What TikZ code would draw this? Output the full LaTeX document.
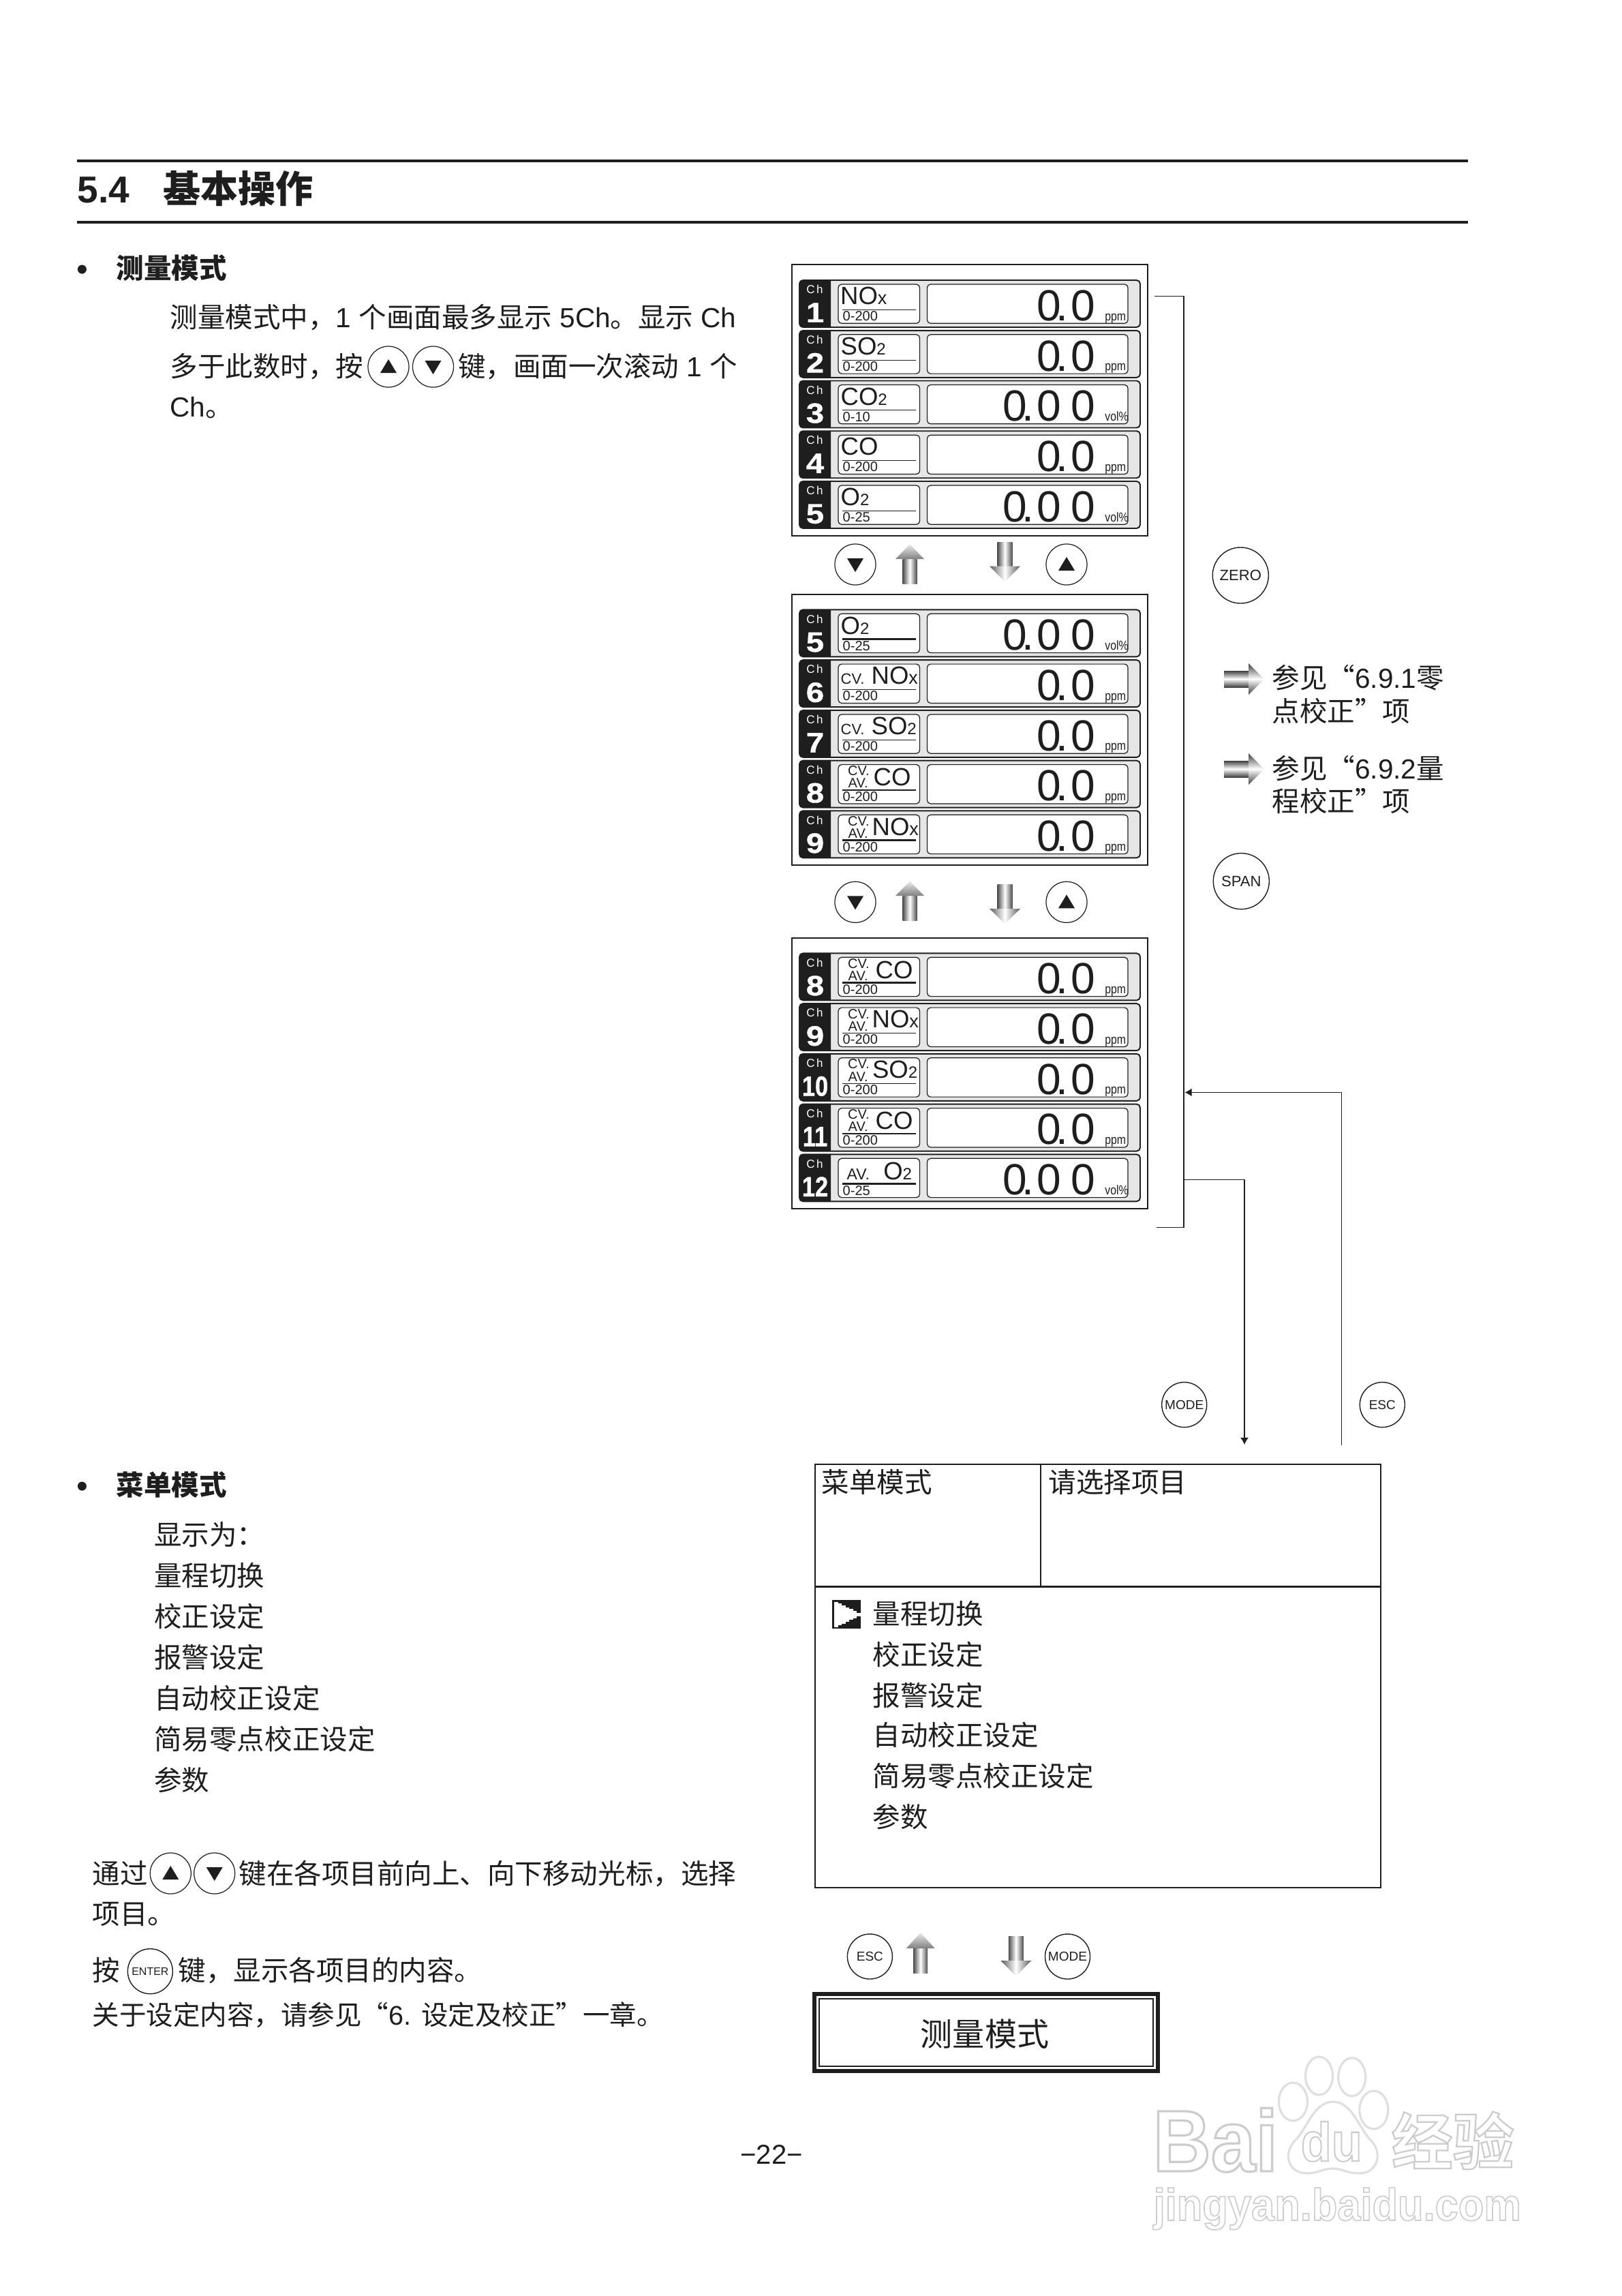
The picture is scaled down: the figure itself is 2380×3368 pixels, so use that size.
\documentclass[tikz,border=0pt]{standalone}
\usepackage{fontspec}
\setmainfont{Liberation Sans}
\newfontfamily\cjk{Noto Sans CJK SC}
\newfontfamily\condf[FakeStretch=.83]{Liberation Sans}
\newfontfamily\chnum[FakeStretch=1.15,FakeBold=1]{Liberation Sans Bold}
\newfontfamily\wmfont[FakeBold=2.5,FakeStretch=.92]{Liberation Sans Bold}
\newfontfamily\wmurl[FakeBold=2.5,FakeStretch=.93]{Liberation Sans Bold}
\newfontfamily\wmcjk[FakeBold=2.5]{Noto Sans CJK SC Bold}
\usetikzlibrary{arrows.meta,positioning}
\definecolor{inkk}{RGB}{30,30,30}
\definecolor{rowgray}{RGB}{230,230,230}
% one unit of the picture is one pixel of the page
\newcommand{\fsz}[1]{\fontsize{\fpeval{#1*0.28453}pt}{\fpeval{#1*0.34}pt}\selectfont}
\newcommand{\zh}[1]{{\cjk #1}}
\newcommand{\low}[1]{{\fsz{24}#1}}
\newcommand{\lowx}{{\fsz{27}x}}
\newcommand{\narrownum}[1]{\scalebox{.73}[1]{#1}}
\newcommand{\valone}{0\kern-.12em.\kern.067em 0}
\newcommand{\valtwo}{0\kern-.12em.\kern.067em 0\kern.225em 0}
\newcommand{\hollow}[1]{\special{pdf:bcolor [1] [.8]}#1\special{pdf:ecolor}}
% row name, top, number, range, value, unit, label nodes
\newcommand{\chrow}[7]{%
  \begin{scope}[shift={(0,#2)}]
    \draw[rowbox] (1173,0) rectangle (1673,69);
    \fill[inkk] (1219,0) {[rounded corners=1.5pt] -- (1173,0) -- (1173,69)} -- (1219,69) -- cycle;
    \draw[inbox] (1230,6) rectangle (1349.5,63.3);
    \draw[inbox] (1360.5,6) rectangle (1655,63.3);
    \draw[inkk, line width=.35pt] (1236,43.3) -- (1344,43.3);
    \node[chtag] (#1c) at (1195.5,19.7) {C\kern.15em h};
    \node[chno] (#1n) at (1196,61.7) {#3};
    \node[rng] (#1r) at (1236,59.7) {#4};
    \node[val] (#1v) at (1608,59.3) {#5};
    \node[unt] (#1u) at (1620.7,59) {#6};
    #7
  \end{scope}}
\newcommand{\cvav}{\node[tag] at (1243.5,22) {CV.}; \node[tag] at (1244,40.3) {AV.};}
\newcommand{\cvone}{\node[tag, font=\fsz{22}] at (1233,35.7) {CV.};}
\newcommand{\heavyrule}{\draw[inkk, line width=.65pt] (1236,43.3) -- (1344,43.3);}
% keys with a triangle
\newcommand{\upkey}[3]{\node[keyb] (#1) at (#2,#3) {};
  \fill[inkk, shift={(#1.center)}] (0,-11) -- (12,9) -- (-12,9) -- cycle;}
\newcommand{\dnkey}[3]{\node[keyb] (#1) at (#2,#3) {};
  \fill[inkk, shift={(#1.center)}] (0,11) -- (12,-9) -- (-12,-9) -- cycle;}
% shaded arrows: centre x, top, head base, tip end
\newcommand{\uparw}[4]{%
  \shade[metal] (#1-10.5,#3) rectangle (#1+10.5,#4);
  \shade[metalup] (#1,#2) -- (#1+21,#3) -- (#1-21,#3) -- cycle;}
\newcommand{\dnarw}[4]{%
  \shade[metal] (#1-11,#2) rectangle (#1+11,#3);
  \shade[metalhead] (#1-22.5,#3) -- (#1+22.5,#3) -- (#1,#4) -- cycle;}
\newcommand{\rtarw}[1]{%
  \shade[metalh] (1796,#1-12) rectangle (1832,#1+12);
  \shade[metalh] (1832,#1-23) -- (1855,#1) -- (1832,#1+23) -- cycle;}

\begin{document}
\begin{tikzpicture}[x=0.01cm, y=-0.01cm,
    rowbox/.style={draw=inkk, fill=rowgray, line width=.55pt, rounded corners=1.5pt},
    inbox/.style={draw=inkk, fill=white, line width=.35pt, rounded corners=1.4pt},
    chtag/.style={anchor=base, inner sep=0, text=white, font=\fsz{17}},
    chno/.style={anchor=base, inner sep=0, text=white, font=\chnum\fsz{41}},
    rng/.style={anchor=base west, inner sep=0, text=inkk, font=\fsz{20}},
    val/.style={anchor=base east, inner sep=0, text=inkk, font=\fsz{64}},
    unt/.style={anchor=base west, inner sep=0, text=inkk, font=\condf\fsz{19}},
    gas/.style={anchor=base west, inner sep=0, text=inkk, font=\fsz{36.5}},
    tag/.style={anchor=base west, inner sep=0, text=inkk, font=\fsz{20}},
    panel/.style={draw=inkk, line width=.6pt},
    keyb/.style={circle, draw=inkk, line width=.35pt, minimum size=.6cm, inner sep=0},
    key/.style={circle, draw=inkk, line width=.4pt, minimum size=.66cm, inner sep=0, text=inkk, font=\fsz{19}},
    bigkey/.style={key, minimum size=.82cm, font=\fsz{22}},
    metal/.style={left color=black!70, right color=black!70, middle color=white},
    metalhead/.style={left color=black!65, right color=black!65, middle color=white},
    metalup/.style={top color=gray!15, bottom color=black!50},
    metalh/.style={top color=black!75, bottom color=black!75, middle color=white},
    txt/.style={anchor=base west, inner sep=0, text=inkk, font=\fsz{40.5}},
    hd/.style={anchor=base west, inner sep=0, text=inkk, font=\bfseries\fsz{40.5}},
    bull/.style={anchor=base, inner sep=0, text=inkk, font=\fsz{48}},
    flow/.style={draw=inkk, line width=.35pt},
    tip/.style={-{Latex[length=2.9pt,width=3.4pt]}},
    wm/.style={anchor=base west, inner sep=0}
  ]
    \useasboundingbox (0,0) rectangle (2380,3368);

    % Title
    \draw[inkk, line width=1.15pt] (113,235.7) -- (2154,235.7);
    \draw[inkk, line width=1.15pt] (113,326) -- (2154,326);
    \node[anchor=base west, inner sep=0, text=inkk, font=\bfseries\fsz{55}] (title) at (113,297)
      {5.4\hspace{.9em}\zh{基本操作}};

    % Measuring mode text
    \node[bull] (b1) at (121,411) {•};
    \node[hd] (m1) at (170,408) {\zh{测量模式}};
    \node[txt] (l1) at (249,480) {\zh{测量模式中，}1 \zh{个画面最多显示} 5Ch\zh{。显示} Ch};
    \node[txt] (l2a) at (249,552) {\zh{多于此数时，按}};
    \upkey{tu}{570}{538}
    \dnkey{td}{635.5}{538}
    \node[txt] (l2b) at (671.5,552) {\zh{键，画面一次滚动} 1 \zh{个}};
    \node[txt] (l3) at (249,611) {Ch\zh{。}};

    % First screen
    \draw[panel] (1162,388.3) rectangle (1684,786);
    \chrow{a}{411}{1}{0-200}{\valone}{ppm}{\node[gas] at (1232.5,35.7) {NO\lowx};}
    \chrow{b}{484.8}{2}{0-200}{\valone}{ppm}{\node[gas] at (1233,35.7) {SO\low{2}};}
    \chrow{c}{558.5}{3}{0-10}{\valtwo}{vol\%}{\node[gas] at (1233,35.7) {CO\low{2}};}
    \chrow{d}{632.2}{4}{0-200}{\valone}{ppm}{\node[gas] at (1233,35.7) {CO};}
    \chrow{e}{706}{5}{0-25}{\valtwo}{vol\%}{\node[gas] at (1233,35.7) {O\low{2}};}

    \dnkey{k1}{1255}{828}
    \upkey{k2}{1565}{828}
    \uparw{1335}{798.3}{820}{856.7}
    \dnarw{1474.5}{795}{830.7}{853.3}

    % Second screen
    \draw[panel] (1162,871.7) rectangle (1684,1269.3);
    \chrow{f}{894.3}{5}{0-25}{\valtwo}{vol\%}{\heavyrule \node[gas] at (1233,35.7) {O\low{2}};}
    \chrow{g}{968.1}{6}{0-200}{\valone}{ppm}{\cvone \node[gas] at (1278,35.7) {NO\lowx};}
    \chrow{h}{1041.9}{7}{0-200}{\valone}{ppm}{\cvone \node[gas] at (1278,35.7) {SO\low{2}};}
    \chrow{i}{1115.6}{8}{0-200}{\valone}{ppm}{\cvav \node[gas] at (1281,36.7) {CO};}
    \chrow{j}{1189.3}{9}{0-200}{\valone}{ppm}{\heavyrule \cvav \node[gas] at (1279,35.7) {NO\lowx};}

    \dnkey{k3}{1255}{1323.3}
    \upkey{k4}{1565}{1323.3}
    \uparw{1335}{1292.7}{1314}{1350.7}
    \dnarw{1474.5}{1297.3}{1333}{1355.3}

    % Third screen
    \draw[panel] (1162,1375.7) rectangle (1684,1773.3);
    \chrow{m}{1398.3}{8}{0-200}{\valone}{ppm}{\heavyrule \cvav \node[gas] at (1284,36.7) {CO};}
    \chrow{n}{1472.1}{9}{0-200}{\valone}{ppm}{\cvav \node[gas] at (1279,35.7) {NO\lowx};}
    \chrow{o}{1545.8}{\narrownum{10}}{0-200}{\valone}{ppm}{\cvav \node[gas] at (1279.3,35.7) {SO\low{2}};}
    \chrow{p}{1619.6}{\narrownum{11}}{0-200}{\valone}{ppm}{\cvav \node[gas] at (1284,36.7) {CO};}
    \chrow{q}{1693.3}{\narrownum{12}}{0-25}{\valtwo}{vol\%}{\heavyrule \node[tag, font=\fsz{23}] at (1242,36.7) {AV.};
      \node[gas] at (1295.6,36.7) {O\low{2}};}

    % Bracket and mode lines
    \coordinate (brtl) at (1694,434.4);
    \coordinate (brtr) at (1737,434.4);
    \coordinate (brbr) at (1737,1800.8);
    \coordinate (brbl) at (1697,1800.8);
    \coordinate (brin) at (1738.5,1602.4);
    \coordinate (brout) at (1737,1730.6);
    \coordinate (modec) at (1826,1730.6);
    \coordinate (modee) at (1826,2119);
    \coordinate (escc) at (1968.3,1602.4);
    \coordinate (esce) at (1968.3,2120);
    \draw[flow] (brtl) -- (brtr);
    \draw[inkk, line width=.75pt] (brtr) -- (brbr);
    \draw[flow] (brbr) -- (brbl);
    \draw[flow, tip] (esce) -- (escc) -- (brin);
    \draw[flow, tip] (brout) -- (modec) -- (modee);

    \node[bigkey] (zero) at (1820.3,844) {ZERO};
    \node[bigkey] (span) at (1821.3,1292.6) {SPAN};
    \node[key] (modek) at (1737.7,2060.6) {MODE};
    \node[key] (esck) at (2028.3,2060.6) {ESC};

    % References to section 6.9
    \rtarw{996}
    \node[txt] (z1) at (1866,1009) {\zh{参见“}6.9.1\zh{零}};
    \node[txt] (z2) at (1866,1058) {\zh{点校正”项}};
    \rtarw{1128}
    \node[txt] (s1) at (1866,1142) {\zh{参见“}6.9.2\zh{量}};
    \node[txt] (s2) at (1866,1190) {\zh{程校正”项}};

    % Menu mode text
    \node[bull] (b2) at (121,2196) {•};
    \node[hd] (m2) at (170,2193) {\zh{菜单模式}};
    \node[txt] (t0) at (225.7,2266) {\zh{显示为：}};
    \node[txt] (t1) at (225.7,2326) {\zh{量程切换}};
    \node[txt] (t2) at (225.7,2386) {\zh{校正设定}};
    \node[txt] (t3) at (225.7,2446) {\zh{报警设定}};
    \node[txt] (t4) at (225.7,2506) {\zh{自动校正设定}};
    \node[txt] (t5) at (225.7,2566) {\zh{简易零点校正设定}};
    \node[txt] (t6) at (225.7,2626) {\zh{参数}};

    \node[txt] (u1) at (135,2763) {\zh{通过}};
    \upkey{u2}{250.3}{2748}
    \dnkey{u3}{314.7}{2748}
    \node[txt] (u4) at (350,2763) {\zh{键在各项目前向上、向下移动光标，选择}};
    \node[txt] (u5) at (135,2822) {\zh{项目。}};
    \node[txt] (v1) at (135,2905) {\zh{按}};
    \node[key, font=\fsz{16}] (enter) at (220.4,2891.7) {ENTER};
    \node[txt] (v2) at (261,2905) {\zh{键，显示各项目的内容。}};
    \node[txt, font=\fsz{39.5}] (v3) at (135,2970) {\zh{关于设定内容，请参见“}6. \zh{设定及校正”一章。}};

    % Menu screen
    \draw[panel] (1196,2148) rectangle (2025.7,2769);
    \draw[panel] (1196,2327.5) -- (2025.7,2327.5);
    \draw[panel] (1526.6,2148) -- (1526.6,2327.5);
    \node[txt] (mh1) at (1205,2189) {\zh{菜单模式}};
    \node[txt] (mh2) at (1538,2189) {\zh{请选择项目}};
    \fill[inkk] (1221.3,2347.3) rectangle (1262.7,2389);
    \foreach \i in {0,...,6}
      \fill[white] ({1224+\i*5.5},{2349.5+\i*2.7}) rectangle ({1224+(\i+1)*5.5},{2387-\i*2.7});
    \node[txt] (i1) at (1280,2382) {\zh{量程切换}};
    \node[txt] (i2) at (1280,2442) {\zh{校正设定}};
    \node[txt] (i3) at (1280,2502) {\zh{报警设定}};
    \node[txt] (i4) at (1280,2560) {\zh{自动校正设定}};
    \node[txt] (i5) at (1280,2620) {\zh{简易零点校正设定}};
    \node[txt] (i6) at (1280,2680) {\zh{参数}};

    % Back to measuring mode
    \node[key] (esc2) at (1276.4,2870) {ESC};
    \node[key] (mode2) at (1566.5,2870) {MODE};
    \uparw{1350.7}{2835}{2858}{2894}
    \dnarw{1490.8}{2840}{2876}{2899}
    \draw[inkk, line width=1.7pt] (1195,2925.3) rectangle (1699,3037.7);
    \draw[inkk, line width=.5pt] (1202,2932.3) rectangle (1692,3030.7);
    \node[txt, anchor=center, font=\fsz{47}] (mm) at (1445,2984) {\zh{测量模式}};

    % Page number
    \node[anchor=center, inner sep=0, text=inkk, font=\fsz{40}] (pg) at (1132,3160) {−22−};

    % Watermark
    \node[wm, font=\wmfont\fsz{128}] (wm1) at (1691,3185) {\hollow{Bai}};
    \foreach \cx/\cy/\rx in {1935.5/3045/20, 1983.7/3046.7/20, 1897.4/3083/21, 2015.8/3095/21}
      \draw[gray!25, line width=.9pt] (\cx,\cy) ellipse [x radius=\rx, y radius=28];
    \draw[gray!25, line width=.9pt] (1956,3083) .. controls (1985,3083) and (1995,3125) .. (2012,3140)
      .. controls (2030,3160) and (2020,3188) .. (1995,3188) .. controls (1975,3188) and (1970,3181) .. (1956,3181)
      .. controls (1940,3181) and (1935,3188) .. (1918,3188) .. controls (1890,3188) and (1882,3160) .. (1900,3140)
      .. controls (1917,3125) and (1927,3083) .. (1956,3083) -- cycle;
    \node[wm, font=\wmfont\fsz{80}] (wm2) at (1908,3170) {\hollow{du}};
    \node[wm, font=\wmcjk\fsz{90}] (wm3) at (2041,3175) {\hollow{经验}};
    \node[wm, font=\wmurl\fsz{66}] (wm4) at (1692,3257) {\hollow{jingyan.baidu.com}};
  \end{tikzpicture}
\end{document}
